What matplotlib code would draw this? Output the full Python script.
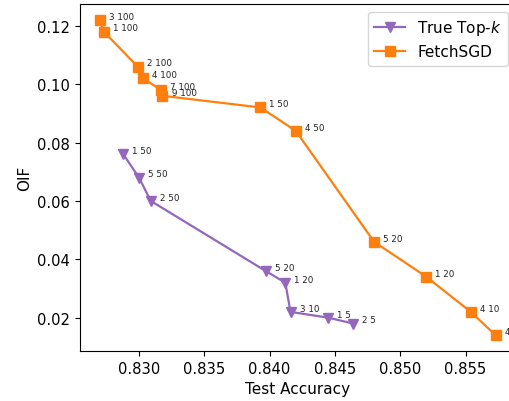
import matplotlib
matplotlib.use("Agg")
import matplotlib.pyplot as plt

# True Top-k results
topk_acc = [0.8288, 0.8300, 0.8309, 0.8397, 0.8412, 0.8416, 0.8445, 0.8464]
topk_oif = [0.076, 0.068, 0.060, 0.036, 0.032, 0.022, 0.020, 0.018]
topk_labels = ["1 50", "5 50", "2 50", "5 20", "1 20", "3 10", "1 5", "2 5"]

# FetchSGD results
fetch_acc = [0.8270, 0.8273, 0.8299, 0.8303, 0.8317, 0.8318,
             0.8393, 0.8420, 0.8480, 0.8520, 0.8554, 0.8573]
fetch_oif = [0.122, 0.118, 0.106, 0.102, 0.098, 0.096,
             0.092, 0.084, 0.046, 0.034, 0.022, 0.014]
fetch_labels = ["3 100", "1 100", "2 100", "4 100", "7 100", "9 100",
                "1 50", "4 50", "5 20", "1 20", "4 10", "4 5"]

W, H = 509, 402
fig = plt.figure(figsize=(W / 100, H / 100), dpi=100)
ax = fig.add_axes([80 / W, (H - 352) / H, (515.4 - 80) / W, (352 - 5.1) / H])

ax.plot(topk_acc, topk_oif, color="#9467bd", marker="v", markersize=7,
        linewidth=1.6, label="True Top-$k$")
ax.plot(fetch_acc, fetch_oif, color="#ff7f0e", marker="s", markersize=6.5,
        linewidth=1.6, label="FetchSGD")

for x, y, t in zip(topk_acc, topk_oif, topk_labels):
    ax.annotate(t, (x, y), xytext=(6.5, 0.8), textcoords="offset points",
                fontsize=6.3, va="baseline", ha="left", color="#222222")
for x, y, t in zip(fetch_acc, fetch_oif, fetch_labels):
    ax.annotate(t, (x, y), xytext=(6.5, 0.8), textcoords="offset points",
                fontsize=6.3, va="baseline", ha="left", color="#222222")

ax.set_xticks([0.830, 0.835, 0.840, 0.845, 0.850, 0.855])
ax.set_yticks([0.02, 0.04, 0.06, 0.08, 0.10, 0.12])
ax.tick_params(labelsize=10.6)
ax.set_xlabel("Test Accuracy", fontsize=11)
ax.set_ylabel("OIF", fontsize=11)
ax.legend(loc="upper right", fontsize=11)

fig.savefig("out.png", dpi=100)
